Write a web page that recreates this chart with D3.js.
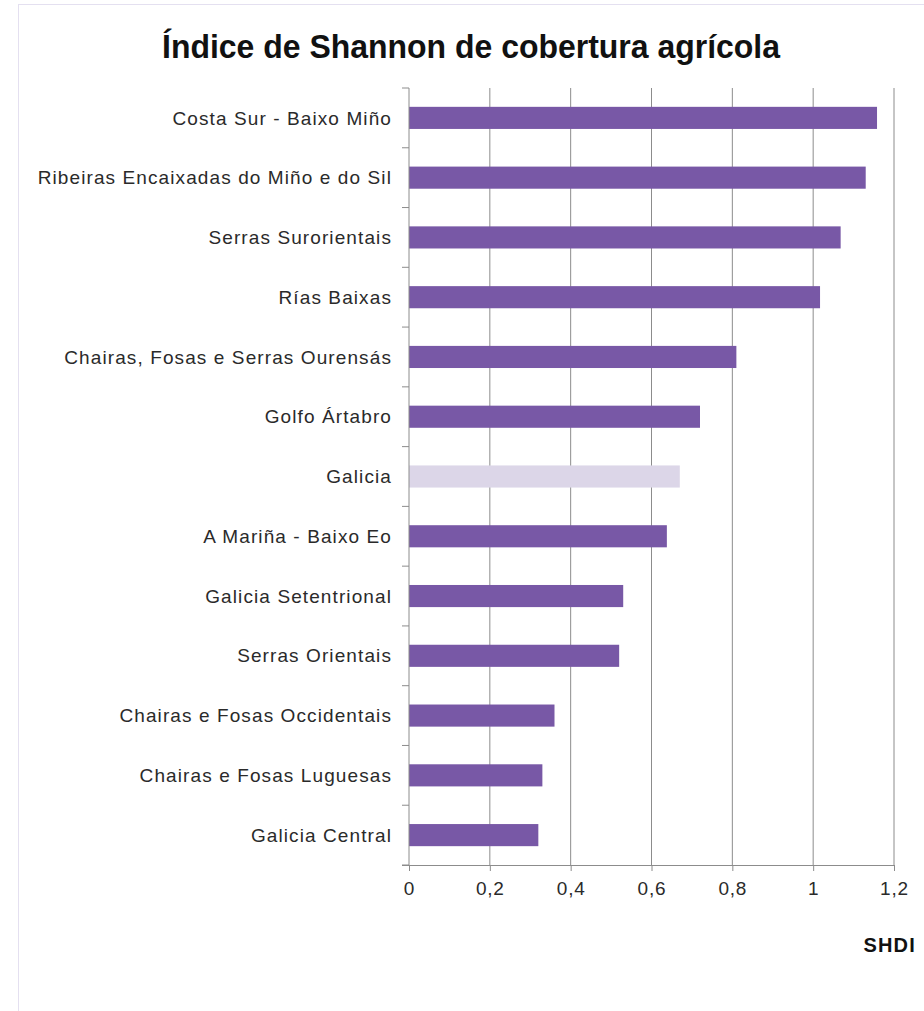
<!DOCTYPE html>
<html><head><meta charset="utf-8">
<script src="https://cdn.jsdelivr.net/npm/d3@7"></script>
<style>body{margin:0;background:#fff}svg{display:block}</style>
</head><body>
<script>
const categories = ["Costa Sur - Baixo Miño","Ribeiras Encaixadas do Miño e do Sil","Serras Surorientais","Rías Baixas","Chairas, Fosas e Serras Ourensás","Golfo Ártabro","Galicia","A Mariña - Baixo Eo","Galicia Setentrional","Serras Orientais","Chairas e Fosas Occidentais","Chairas e Fosas Luguesas","Galicia Central"];
const values = [1.158,1.13,1.068,1.017,0.81,0.72,0.67,0.638,0.53,0.52,0.36,0.33,0.32];
const highlight = ["Galicia"];
const xTicks = [0,0.2,0.4,0.6,0.8,1,1.2];
const title = "Índice de Shannon de cobertura agrícola";
const xTitle = "SHDI";

const W=924,H=1011;
const FONT="'Liberation Sans', Arial, sans-serif";
const svg=d3.select("body").append("svg").attr("width",W).attr("height",H);
svg.append("rect").attr("x",18.5).attr("y",4.5).attr("width",W).attr("height",H).attr("fill","#fff").attr("stroke","#e4e0f0");
const m={l:409,r:894,t:88,b:865};
const x=d3.scaleLinear().domain([0,1.2]).range([m.l,m.r]);
const y=d3.scaleBand().domain(categories).range([m.t,m.b]).paddingInner(0.63).paddingOuter(0.315);

// grid
svg.append("g").selectAll("line").data(xTicks.slice(1)).join("line")
  .attr("x1",d=>x(d)).attr("x2",d=>x(d)).attr("y1",m.t).attr("y2",m.b)
  .attr("stroke","#8c8c8c").attr("stroke-width",1);

// bars
svg.append("g").selectAll("rect").data(categories).join("rect")
  .attr("x",x(0)).attr("y",d=>y(d)).attr("height",y.bandwidth())
  .attr("width",(d,i)=>x(values[i])-x(0))
  .attr("fill",d=>highlight.includes(d)?"#dcd6e8":"#7858a6");

// y axis
const step=(m.b-m.t)/categories.length;
const ya=svg.append("g");
ya.append("line").attr("x1",m.l).attr("x2",m.l).attr("y1",m.t).attr("y2",m.b).attr("stroke","#8c8c8c");
ya.selectAll("line.t").data(d3.range(categories.length+1)).join("line").attr("class","t")
  .attr("x1",m.l-7).attr("x2",m.l).attr("y1",i=>m.t+i*step).attr("y2",i=>m.t+i*step).attr("stroke","#8c8c8c");
ya.selectAll("text").data(categories).join("text")
  .attr("x",392).attr("y",d=>y(d)+y.bandwidth()/2).attr("dy","0.35em")
  .attr("text-anchor","end").attr("font-family",FONT)
  .attr("font-size",19).attr("letter-spacing",1.1).attr("fill","#2a2a2a").text(d=>d);

// x axis
const xa=svg.append("g").attr("transform",`translate(0,${m.b})`)
  .call(d3.axisBottom(x).tickValues(xTicks).tickSize(6).tickPadding(11)
  .tickFormat(d=>String(d).replace(".",",")));
xa.select(".domain").attr("d",`M${m.l-7},0.5H${m.r}`).attr("stroke","#8c8c8c");
xa.selectAll(".tick line").attr("stroke","#8c8c8c");
xa.selectAll("text").attr("font-family",FONT).attr("font-size",19).attr("letter-spacing",0.8).attr("fill","#2a2a2a");

svg.append("text").attr("x",916).attr("y",952).attr("text-anchor","end")
  .attr("font-family",FONT).attr("font-weight","bold").attr("font-size",20).attr("letter-spacing",1.2).attr("fill","#111").text(xTitle);

svg.append("text").attr("x",162).attr("y",58)
  .attr("textLength",618).attr("lengthAdjust","spacingAndGlyphs")
  .attr("font-family",FONT).attr("font-weight","bold").attr("font-size",33).attr("fill","#111").text(title);
</script>
</body></html>
